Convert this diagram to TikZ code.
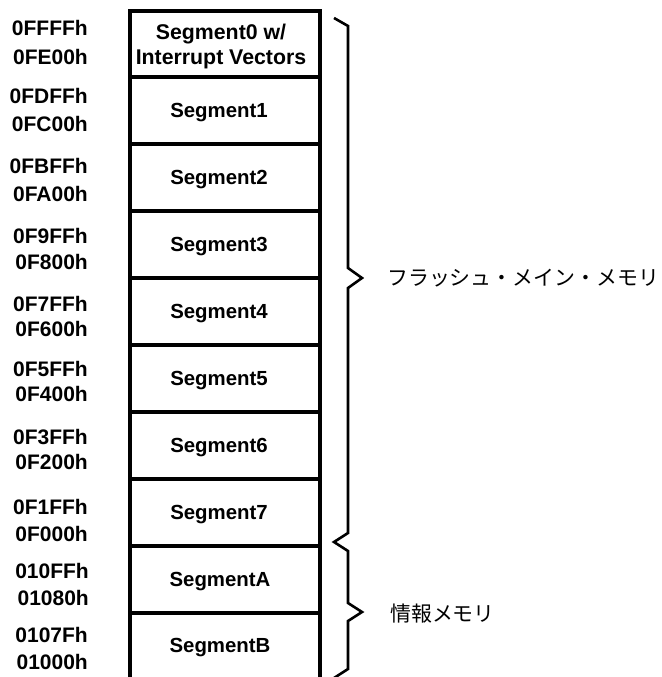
\documentclass[tikz,border=0pt]{standalone}
\usepackage{fontspec}
\setmainfont{Liberation Sans}
\newfontfamily\jpfont{Noto Sans CJK JP}
\begin{document}
\begin{tikzpicture}[x=1pt,y=-1pt,
  addr/.style={anchor=base east,font=\fontsize{21}{23}\selectfont\bfseries,inner sep=0pt},
  seg/.style={anchor=base,font=\fontsize{20.4}{25}\selectfont\bfseries,align=center,inner sep=0pt},
  segtwo/.style={font=\fontsize{21.3}{25}\selectfont\bfseries,align=center,inner sep=0pt},
  jp/.style={anchor=west,font=\jpfont\fontsize{20.9}{22}\selectfont,inner sep=0pt},
  frame/.style={line width=3.5pt,line join=miter},
  bracestyle/.style={line width=2.6pt,line join=miter}]
\useasboundingbox (0,0) rectangle (661,677);
% frame of the memory map
\draw[frame] (130,680) -- (130,11) -- (320,11) -- (320,680);
\foreach \yy in {77,144,211,278,345,412,479,546,613}
  \draw[frame] (130,\yy) -- (320,\yy);
% segment labels
\node[segtwo] (s0) at (221,46.5) {Segment0 w/\\Interrupt Vectors};
\node[seg] (s1) at (219,117.7) {Segment1};
\node[seg] (s2) at (219,184.7) {Segment2};
\node[seg] (s3) at (219,251.7) {Segment3};
\node[seg] (s4) at (219,318.7) {Segment4};
\node[seg] (s5) at (219,385.7) {Segment5};
\node[seg] (s6) at (219,452.7) {Segment6};
\node[seg] (s7) at (219,519.7) {Segment7};
\node[seg] (sa) at (220,586.7) {SegmentA};
\node[seg] (sb) at (220,652.2) {SegmentB};
% addresses
\node[addr] (a1) at (88,35.7) {0FFFFh};
\node[addr] (a2) at (88,64.7) {0FE00h};
\node[addr] (a3) at (88,103.2) {0FDFFh};
\node[addr] (a4) at (88,131.2) {0FC00h};
\node[addr] (a5) at (88,173.2) {0FBFFh};
\node[addr] (a6) at (88,201.7) {0FA00h};
\node[addr] (a7) at (88,243.2) {0F9FFh};
\node[addr] (a8) at (88,269.2) {0F800h};
\node[addr] (a9) at (88,311.2) {0F7FFh};
\node[addr] (a10) at (88,336.2) {0F600h};
\node[addr] (a11) at (88,376.7) {0F5FFh};
\node[addr] (a12) at (88,401.7) {0F400h};
\node[addr] (a13) at (88,444.7) {0F3FFh};
\node[addr] (a14) at (88,469.7) {0F200h};
\node[addr] (a15) at (88,514.7) {0F1FFh};
\node[addr] (a16) at (88,541.7) {0F000h};
\node[addr] (a17) at (89,578.7) {010FFh};
\node[addr] (a18) at (89,605.7) {01080h};
\node[addr] (a19) at (88,642.7) {0107Fh};
\node[addr] (a20) at (88,669.7) {01000h};
% braces
\draw[bracestyle] (334,18) -- (348,26) -- (348,268) -- (362,278) -- (348,288)
  -- (348,533) -- (334,542) -- (348,551) -- (348,603) -- (362,612) -- (348,621)
  -- (348,669) -- (334,678);
\node[jp] (flash) at (387,278) {フラッシュ・メイン・メモリ};
\node[jp] (info) at (390,614) {情報メモリ};
\end{tikzpicture}
\end{document}
